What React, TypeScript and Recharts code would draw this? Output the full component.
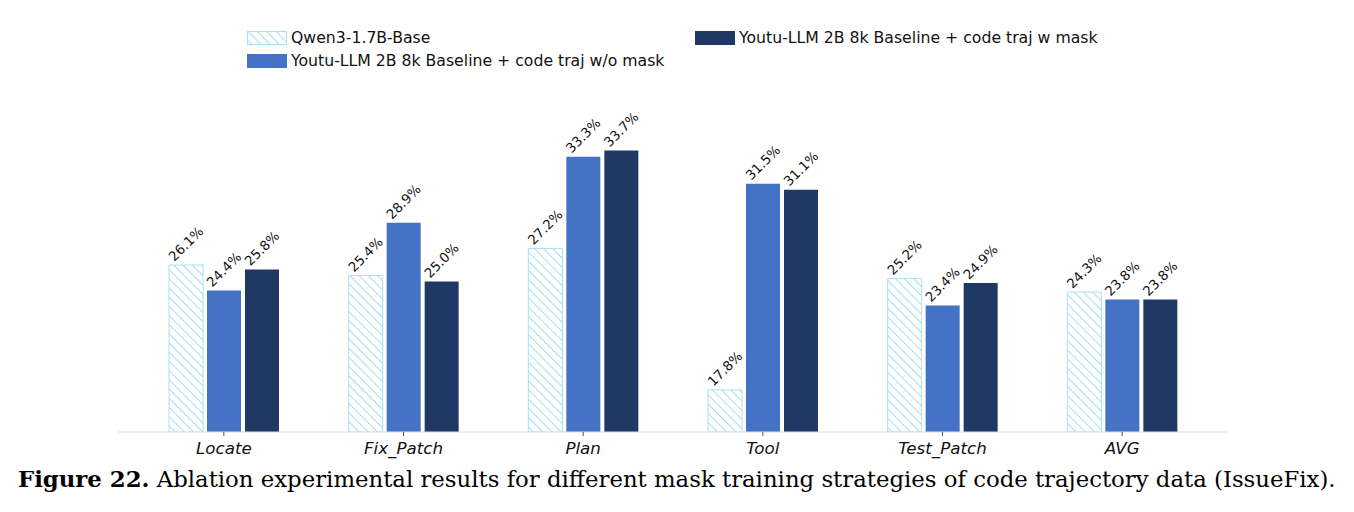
import { BarChart, Bar, XAxis, YAxis, LabelList } from "recharts";

const categories = ["Locate", "Fix_Patch", "Plan", "Tool", "Test_Patch", "AVG"];
const qwenBase = [26.1, 25.4, 27.2, 17.8, 25.2, 24.3];
const noMask = [24.4, 28.9, 33.3, 31.5, 23.4, 23.8];
const withMask = [25.8, 25.0, 33.7, 31.1, 24.9, 23.8];

const seriesNames = [
  "Qwen3-1.7B-Base",
  "Youtu-LLM 2B 8k Baseline + code traj w/o mask",
  "Youtu-LLM 2B 8k Baseline + code traj w mask",
];

const data = categories.map((name, i) => ({
  name,
  qwen: qwenBase[i],
  nomask: noMask[i],
  mask: withMask[i],
}));

const FONT = "DejaVu Sans, sans-serif";
const HATCH = "#86d3ee";
const HATCH_EDGE = "#a6e2f4";

const RotLabel = (props: any) => {
  const { x, y, width, value } = props;
  const cx = x + width / 2;
  const cy = y - 21;
  return (
    <text
      x={cx}
      y={cy}
      textAnchor="middle"
      dominantBaseline="central"
      fontSize={13.3}
      fontFamily={FONT}
      fill="#111"
      transform={`rotate(-45 ${cx} ${cy})`}
    >
      {`${value.toFixed(1)}%`}
    </text>
  );
};

const Swatch = ({ kind }: { kind: number }) => (
  <svg width={40} height={14} style={{ display: "block" }}>
    <defs>
      <pattern id={`lg${kind}`} width={6.5} height={6.5} patternUnits="userSpaceOnUse" patternTransform="rotate(-45)">
        <line x1={0} y1={0} x2={0} y2={6.5} stroke={HATCH} strokeWidth={1.5} />
      </pattern>
    </defs>
    {kind === 0 ? (
      <rect x={0.5} y={0.5} width={39} height={13} fill={`url(#lg${kind})`} stroke={HATCH_EDGE} />
    ) : (
      <rect x={0} y={0} width={40} height={14} fill={kind === 1 ? "#4472c4" : "#203864"} />
    )}
  </svg>
);

const LegendItem = ({ kind, left, top }: { kind: number; left: number; top: number }) => (
  <div
    style={{
      position: "absolute",
      left,
      top,
      display: "flex",
      alignItems: "center",
      gap: 4,
      fontFamily: FONT,
      fontSize: 15.7,
      color: "#111",
      whiteSpace: "nowrap",
    }}
  >
    <Swatch kind={kind} />
    <span>{seriesNames[kind]}</span>
  </div>
);

export default function App() {
  return (
    <div style={{ position: "absolute", left: 0, top: 0, width: 1354, height: 512, background: "#fff" }}>
      <LegendItem kind={0} left={247} top={28} />
      <LegendItem kind={1} left={247} top={51} />
      <LegendItem kind={2} left={695} top={28} />
      <div style={{ position: "absolute", left: 0, top: 0 }}>
        <BarChart
          width={1354}
          height={462}
          data={data}
          margin={{ top: 116, right: 127, bottom: 0, left: 118 }}
          barSize={34}
          barGap={4}
        >
          <defs>
            <pattern id="hatch" width={6.5} height={6.5} patternUnits="userSpaceOnUse" patternTransform="rotate(-45)">
              <rect width={6.5} height={6.5} fill="#fff" />
              <line x1={0} y1={0} x2={0} y2={6.5} stroke={HATCH} strokeWidth={1.5} />
            </pattern>
          </defs>
          <XAxis
            dataKey="name"
            height={30}
            padding={{ left: 16, right: 15 }}
            axisLine={{ stroke: "#dddddd" }}
            tickLine={{ stroke: "#555" }}
            tickSize={4}
            tickMargin={6}
            tick={{ fontFamily: FONT, fontSize: 16.7, fontStyle: "italic", fill: "#111" }}
            interval={0}
          />
          <YAxis hide domain={[15, 36]} allowDataOverflow />
          <Bar dataKey="qwen" fill="url(#hatch)" stroke={HATCH_EDGE} strokeWidth={1} isAnimationActive={false}>
            <LabelList dataKey="qwen" content={RotLabel} />
          </Bar>
          <Bar dataKey="nomask" fill="#4472c4" isAnimationActive={false}>
            <LabelList dataKey="nomask" content={RotLabel} />
          </Bar>
          <Bar dataKey="mask" fill="#203864" isAnimationActive={false}>
            <LabelList dataKey="mask" content={RotLabel} />
          </Bar>
        </BarChart>
      </div>
      <div
        style={{
          position: "absolute",
          left: 18,
          top: 466,
          fontFamily: "DejaVu Serif, serif",
          fontSize: 22.8,
          color: "#000",
          whiteSpace: "nowrap",
        }}
      >
        <b>Figure 22.</b> Ablation experimental results for different mask training strategies of code trajectory data (IssueFix).
      </div>
    </div>
  );
}
